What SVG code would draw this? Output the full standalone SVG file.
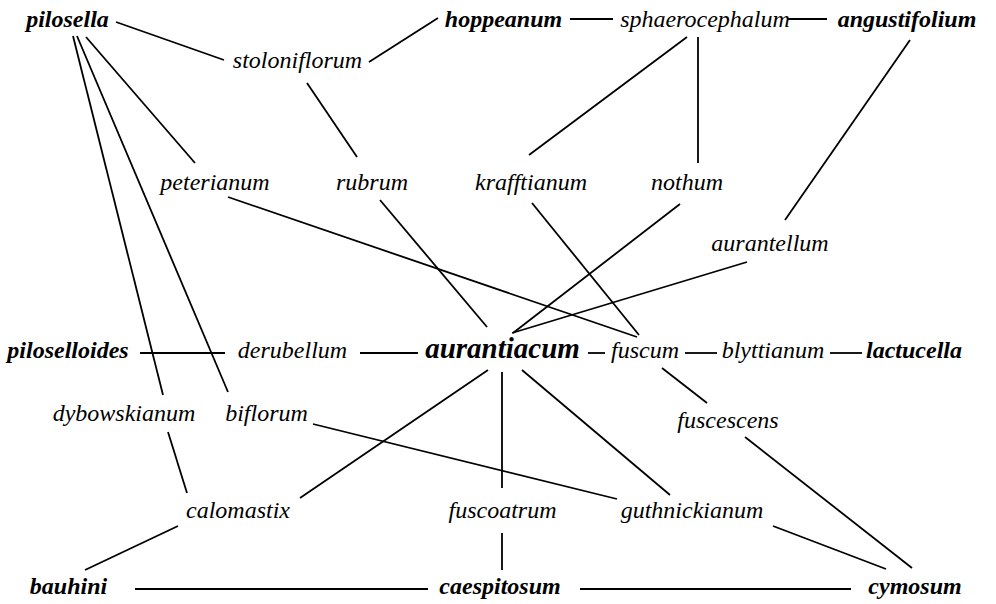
<svg xmlns="http://www.w3.org/2000/svg" width="996" height="604" viewBox="0 0 996 604">
<rect width="996" height="604" fill="#fff"/>
<g id="edges" stroke="#000" stroke-width="1.8" fill="none">
<line x1="116" y1="22" x2="224" y2="60"/>
<line x1="438" y1="18" x2="369" y2="62"/>
<line x1="570" y1="19" x2="613" y2="19"/>
<line x1="788" y1="19" x2="827" y2="19"/>
<line x1="687" y1="37" x2="529" y2="155"/>
<line x1="698" y1="37" x2="698" y2="163"/>
<line x1="910" y1="40" x2="785" y2="220"/>
<line x1="86" y1="37" x2="195" y2="163"/>
<line x1="73" y1="36" x2="163" y2="395"/>
<line x1="77" y1="36" x2="228" y2="392"/>
<line x1="307" y1="83" x2="357" y2="157"/>
<line x1="228" y1="197" x2="637" y2="337"/>
<line x1="532" y1="203" x2="639" y2="335"/>
<line x1="380" y1="200" x2="487" y2="327"/>
<line x1="680" y1="204" x2="513" y2="333"/>
<line x1="747" y1="262" x2="512" y2="333"/>
<line x1="140" y1="353" x2="225" y2="353"/>
<line x1="360" y1="353" x2="418" y2="353"/>
<line x1="588" y1="353" x2="605" y2="353"/>
<line x1="685" y1="353" x2="717" y2="353"/>
<line x1="830" y1="353" x2="862" y2="353"/>
<line x1="662" y1="368" x2="707" y2="403"/>
<line x1="488" y1="370" x2="300" y2="498"/>
<line x1="502" y1="372" x2="502" y2="488"/>
<line x1="522" y1="370" x2="670" y2="495"/>
<line x1="313" y1="424" x2="617" y2="499"/>
<line x1="168" y1="432" x2="187" y2="493"/>
<line x1="178" y1="526" x2="85" y2="570"/>
<line x1="135" y1="589" x2="428" y2="589"/>
<line x1="502" y1="533" x2="502" y2="570"/>
<line x1="580" y1="589" x2="851" y2="589"/>
<line x1="773" y1="526" x2="886" y2="569"/>
<line x1="745" y1="437" x2="912" y2="568"/>
</g>
<g font-family="Liberation Serif" font-style="italic" font-size="24" text-anchor="middle" fill="#000">
<g id="pilosella"><text style="font-family:'Liberation Serif',serif;font-weight:bold" x="67.5" y="27">pilosella</text></g>
<g id="hoppeanum"><text style="font-family:'Liberation Serif',serif;font-weight:bold" x="503.5" y="27">hoppeanum</text></g>
<g id="sphaerocephalum"><text style="font-family:'Liberation Serif',serif" x="705" y="27">sphaerocephalum</text></g>
<g id="angustifolium"><text style="font-family:'Liberation Serif',serif;font-weight:bold" x="907" y="27">angustifolium</text></g>
<g id="stoloniflorum"><text style="font-family:'Liberation Serif',serif" x="297.5" y="68">stoloniflorum</text></g>
<g id="peterianum"><text style="font-family:'Liberation Serif',serif" x="215" y="190">peterianum</text></g>
<g id="rubrum"><text style="font-family:'Liberation Serif',serif" x="372" y="190">rubrum</text></g>
<g id="krafftianum"><text style="font-family:'Liberation Serif',serif" x="531" y="190">krafftianum</text></g>
<g id="nothum"><text style="font-family:'Liberation Serif',serif" x="687" y="190">nothum</text></g>
<g id="aurantellum"><text style="font-family:'Liberation Serif',serif" x="770" y="251">aurantellum</text></g>
<g id="piloselloides"><text style="font-family:'Liberation Serif',serif;font-weight:bold" x="68" y="358">piloselloides</text></g>
<g id="derubellum"><text style="font-family:'Liberation Serif',serif" x="292.5" y="358">derubellum</text></g>
<g id="aurantiacum"><text style="font-family:'Liberation Serif',serif;font-weight:bold;font-size:29px" x="502.5" y="358">aurantiacum</text></g>
<g id="fuscum"><text style="font-family:'Liberation Serif',serif" x="645" y="358">fuscum</text></g>
<g id="blyttianum"><text style="font-family:'Liberation Serif',serif" x="773" y="358">blyttianum</text></g>
<g id="lactucella"><text style="font-family:'Liberation Serif',serif;font-weight:bold" x="914" y="358">lactucella</text></g>
<g id="dybowskianum"><text style="font-family:'Liberation Serif',serif" x="124" y="421">dybowskianum</text></g>
<g id="biflorum"><text style="font-family:'Liberation Serif',serif" x="266.5" y="421">biflorum</text></g>
<g id="fuscescens"><text style="font-family:'Liberation Serif',serif" x="728" y="428">fuscescens</text></g>
<g id="calomastix"><text style="font-family:'Liberation Serif',serif" x="238" y="518">calomastix</text></g>
<g id="fuscoatrum"><text style="font-family:'Liberation Serif',serif" x="502.5" y="518">fuscoatrum</text></g>
<g id="guthnickianum"><text style="font-family:'Liberation Serif',serif" x="692" y="518">guthnickianum</text></g>
<g id="bauhini"><text style="font-family:'Liberation Serif',serif;font-weight:bold" x="68.5" y="594">bauhini</text></g>
<g id="caespitosum"><text style="font-family:'Liberation Serif',serif;font-weight:bold" x="500" y="594">caespitosum</text></g>
<g id="cymosum"><text style="font-family:'Liberation Serif',serif;font-weight:bold" x="915" y="594">cymosum</text></g>
</g>
</svg>
